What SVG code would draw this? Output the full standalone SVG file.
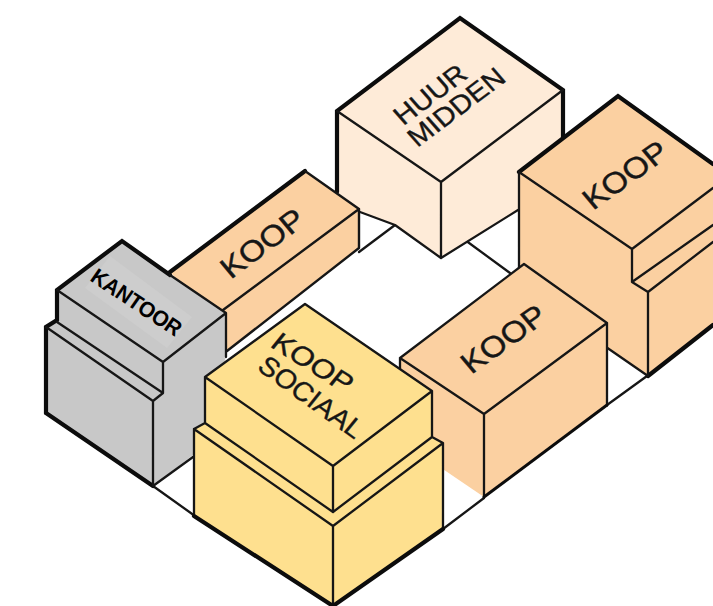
<svg xmlns="http://www.w3.org/2000/svg" width="713" height="606" viewBox="0 0 713 606">
<style>
.l{fill:none;stroke:#161616;stroke-width:2.3;stroke-linejoin:round;stroke-linecap:round}
.t{fill:none;stroke:#0c0c0c;stroke-width:4.2;stroke-linejoin:miter;stroke-linecap:round}
.koop{fill:#FBD0A1}.huur{fill:#FEEBD8}.soc{fill:#FEE08F}.kan{fill:#C8C8C8}
text{font-family:"Liberation Sans",Arial,sans-serif;fill:#161616;stroke:#161616;stroke-width:.35;font-size:26px}
</style>
<rect width="713" height="606" fill="#ffffff"/>
<g id="connectors">
<path class="l" d="M359 252L395 225M465 240L510 273M153 486L195 516M443 529L484 498M607 405L647 376"/>
</g>
<g id="huur-midden">
<path class="huur" d="M337 111L460 18L563 90V140L540 195L518 210L441 258L395 225L360 212L337 192Z"/>
<path class="t" d="M337 192V111L460 18L563 90V140"/>
<path class="l" d="M337 111L441 182L563 90M441 182V258L518 210M441 258L395 225L360 212"/>
<text transform="matrix(.88,-.66,.69,.79,403.2,126.3)">HUUR</text>
<text transform="matrix(.88,-.66,.69,.79,417.3,148.1)">MIDDEN</text>
</g>
<g id="koop-strip">
<path class="koop" d="M170 272L305 171L359 209V248L227 351L215 320Z"/>
<path class="t" d="M170 272L305 171"/>
<path class="l" d="M305 171L359 209M359 209L223 310M359 209V248L227 351" style="stroke-width:2.4"/>
<text transform="matrix(1.02,-.76,.74,.89,230.7,279.8)">KOOP</text>
</g>
<g id="kantoor">
<path class="kan" d="M46 327L57 320V290L122 241L226 313V357L193 455L153 486L46 413Z"/>
<polygon points="110,256 192,317 167,348 85,288" fill="#CDCDCD"/>
<path class="t" d="M46 413V327L57 320V290L122 241L170 275"/>
<path class="t" d="M46 413L153 486"/>
<path class="l" d="M170 275L226 313V357M57 290L163 362L226 313M163 362V393L153 401V486L193 457M57 322L163 393M46 327L153 401"/>
<text transform="matrix(.83,.55,-.6,.86,89,280)" style="font-size:21px;font-weight:700;fill:#000;stroke:none" textLength="104">KANTOOR</text>
</g>
<g id="koop-right">
<path class="koop" d="M519 172L618 96L713 164V325L648 376L606 347L519 270Z"/>
<path class="t" d="M519 172L618 96L713 164M648 376L713 325"/>
<path class="l" d="M519 172V270M519 172L632 249L713 188M632 249V282L713 225M632 282L648 292L713 242M648 292V376L606 347"/>
<text transform="matrix(1.04,-.74,.75,.89,593,210.8)">KOOP</text>
</g>
<g id="koop-center">
<path class="koop" d="M400 358L524 264L607 323V405L484 497L400 440Z"/>
<path class="l" d="M400 369V358L524 264L607 323L484 414L400 358M607 323V405M484 414V497"/>
<path class="t" d="M484 497L607 405" style="stroke-width:3"/>
<text transform="matrix(1.04,-.74,.75,.89,471.2,374.8)">KOOP</text>
</g>
<g id="koop-sociaal">
<path class="soc" d="M305 304L432 391V437L443 443V529L333 606L194 516V429L205 423V377Z"/>
<path class="l" d="M205 423V377L305 304L432 391V437M205 377L333 466L432 391M333 466V512L432 437L443 443V529M205 423L333 512M194 429L205 423M194 429V516M194 429L333 526L443 443M333 526V606"/>
<path class="t" d="M194 516L333 606L443 529"/>
<text transform="matrix(1.01,.635,-.66,.82,269,346)">KOOP</text>
<text transform="matrix(.875,.63,-.66,.82,256,369)">SOCIAAL</text>
</g>
</svg>
